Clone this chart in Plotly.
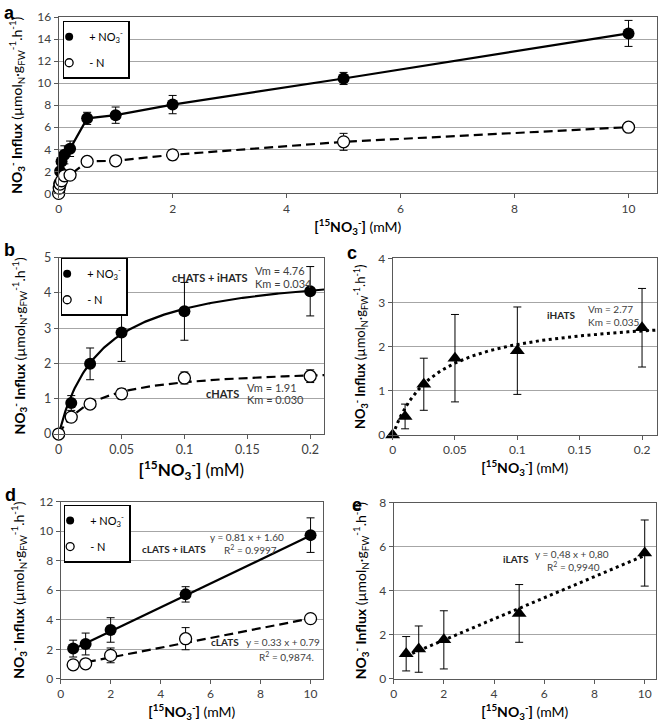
import numpy as np
import plotly.graph_objects as go

W, H = 658, 727

# ---------------- data ----------------
# panel a: full concentration range
conc_a = [0, 0.01, 0.025, 0.05, 0.1, 0.2, 0.5, 1, 2, 5, 10]
a_plus = [0, 0.9, 2.0, 2.9, 3.5, 4.05, 6.81, 7.1, 8.06, 10.43, 14.52]
a_plus_err = [0, 0.2, 0.45, 0.82, 0.82, 0.7, 0.55, 0.74, 0.83, 0.55, 1.18]
a_minus = [0, 0.48, 0.85, 1.15, 1.6, 1.66, 2.9, 2.96, 3.5, 4.68, 6.01]
a_minus_err = [0, 0.08, 0.08, 0.15, 0.17, 0.18, 0.1, 0.1, 0.45, 0.77, 0.15]

# panels b, c: HATS range
conc_hats = [0, 0.01, 0.025, 0.05, 0.1, 0.2]
b_plus = [0, 0.88, 1.99, 2.88, 3.48, 4.05]
b_plus_err = [0, 0.21, 0.45, 0.82, 0.82, 0.7]
b_minus = [0, 0.48, 0.85, 1.14, 1.59, 1.64]
b_minus_err = [0, 0.08, 0.08, 0.15, 0.17, 0.18]
c_i = [0, 0.42, 1.15, 1.74, 1.91, 2.43]
c_i_err = [0, 0.28, 0.59, 0.99, 0.99, 0.89]

# Michaelis-Menten parameters (Vm, Km)
mm_plus = (4.76, 0.034)
mm_minus = (1.91, 0.030)
mm_i = (2.77, 0.035)

# panels d, e: LATS range
conc_lats = [0.5, 1, 2, 5, 10]
d_plus = [2.05, 2.36, 3.31, 5.72, 9.73]
d_plus_err = [0.57, 0.74, 0.83, 0.52, 1.17]
d_minus = [0.95, 1.02, 1.59, 2.72, 4.08]
d_minus_err = [0.15, 0.15, 0.5, 0.75, 0.2]
e_i = [1.14, 1.35, 1.77, 2.97, 5.71]
e_i_err = [0.78, 1.05, 1.32, 1.31, 1.5]

# linear fits (slope, intercept)
lin_plus = (0.81, 1.60)
lin_minus = (0.33, 0.79)
lin_i = (0.48, 0.80)

# ---------------- style ----------------
FONT = "Lato"
TICKC = "#404040"
GRID = "#a6a6a6"
BORDER = "#595959"
DASH = "9px,5px"
DOT = "3px,3.5px"


def px(x):
    return x / W


def py(y):
    return 1 - y / H


fig = go.Figure()


def line(x, y, n, dash=None, width=2.2):
    fig.add_trace(go.Scatter(
        x=x, y=y, mode="lines", xaxis="x" + n, yaxis="y" + n,
        line=dict(color="black", width=width, dash=dash),
        showlegend=False, hoverinfo="skip"))


def marker_style(kind, size):
    if kind == "filled":
        return dict(symbol="circle", size=size, color="black")
    if kind == "open":
        return dict(symbol="circle", size=size, color="white",
                    line=dict(color="black", width=1.3))
    return dict(symbol="triangle-up", size=size, color="black")


def pts(x, y, err, n, kind, size=12):
    fig.add_trace(go.Scatter(
        x=x, y=y, mode="markers", xaxis="x" + n, yaxis="y" + n,
        marker=marker_style(kind, size), cliponaxis=False,
        error_y=dict(type="data", array=err, visible=True, color="black",
                     thickness=1, width=4),
        showlegend=False))


def legend_entry(name, kind, n, legend):
    fig.add_trace(go.Scatter(
        x=[None], y=[None], mode="markers", xaxis="x" + n, yaxis="y" + n,
        marker=marker_style(kind, 8), name=name, showlegend=True,
        legend=legend, legendgroup=legend + kind))


def mm(params, x):
    vm, km = params
    return vm * x / (km + x)


LEG_PLUS = "+ NO<sub>3</sub><sup>-</sup>"
LEG_MINUS = "- N"

# panel a
line(conc_a, a_plus, "")
line(conc_a, a_minus, "", dash=DASH)
pts(conc_a, a_plus, a_plus_err, "", "filled")
pts(conc_a, a_minus, a_minus_err, "", "open")
legend_entry(LEG_PLUS, "filled", "", "legend")
legend_entry(LEG_MINUS, "open", "", "legend")

# panel b
xf = np.linspace(0, 0.211, 200)
line(xf, mm(mm_plus, xf), "2")
line(xf, mm(mm_minus, xf), "2", dash=DASH)
pts(conc_hats, b_plus, b_plus_err, "2", "filled")
pts(conc_hats, b_minus, b_minus_err, "2", "open")
legend_entry(LEG_PLUS, "filled", "2", "legend2")
legend_entry(LEG_MINUS, "open", "2", "legend2")

# panel c
line(xf, mm(mm_i, xf), "3", dash=DOT, width=3)
pts(conc_hats, c_i, c_i_err, "3", "tri", size=13)

# panel d
xl = np.array([min(conc_lats), max(conc_lats)])
line(xl, lin_plus[0] * xl + lin_plus[1], "4")
line(xl, lin_minus[0] * xl + lin_minus[1], "4", dash=DASH)
pts(conc_lats, d_plus, d_plus_err, "4", "filled")
pts(conc_lats, d_minus, d_minus_err, "4", "open")
legend_entry(LEG_PLUS, "filled", "4", "legend3")
legend_entry(LEG_MINUS, "open", "4", "legend3")

# panel e
line(xl, lin_i[0] * xl + lin_i[1], "5", dash=DOT, width=3)
pts(conc_lats, e_i, e_i_err, "5", "tri", size=13)

# ---------------- axes ----------------
YTITLE = ("<b>NO<sub>3</sub><sup>-</sup> Influx</b> (µmol<sub>N</sub>·g<sub>FW</sub>"
          "<sup>-1</sup>.h<sup>-1</sup>)")
XTITLE = "<b>[<sup>15</sup>NO<sub>3</sub><sup>-</sup>]</b> (mM)"


def xax(dom_px, rng, dtick, anchor, tsize, tfs, standoff):
    return dict(domain=[px(dom_px[0]), px(dom_px[1])], range=rng, dtick=dtick,
                anchor=anchor, showline=True, mirror=True, linecolor=BORDER,
                linewidth=1, ticks="outside", ticklen=4, tickcolor=BORDER,
                showgrid=False, zeroline=False,
                tickfont=dict(family=FONT, size=tsize, color=TICKC),
                title=dict(text=XTITLE, font=dict(family=FONT, size=tfs, color="black"),
                           standoff=standoff))


def yax(dom_px, rng, dtick, anchor, tsize, tfs, standoff):
    return dict(domain=[py(dom_px[1]), py(dom_px[0])], range=rng, dtick=dtick,
                anchor=anchor, showline=True, mirror=True, linecolor=BORDER,
                linewidth=1, ticks="outside", ticklen=4, tickcolor=BORDER,
                showgrid=True, gridcolor=GRID, gridwidth=1, zeroline=False,
                tickfont=dict(family=FONT, size=tsize, color=TICKC),
                title=dict(text=YTITLE, font=dict(family=FONT, size=tfs, color="black"),
                           standoff=standoff))


fig.update_layout(
    xaxis=xax((55, 657), [0, 10.5], 2, "y", 12, 14, 2),
    yaxis=yax((9.3, 189.3), [0, 16], 2, "x", 12, 14, 11),
    xaxis2=xax((55, 322), [0, 0.211], 0.05, "y2", 12.5, 17, 6),
    yaxis2=yax((255, 435), [0, 5], 1, "x2", 12.5, 14, 15),
    xaxis3=xax((391, 657), [0, 0.212], 0.05, "y3", 12, 14, 4),
    yaxis3=yax((255.7, 436), [0, 4], 1, "x3", 12, 13, 9),
    xaxis4=xax((57, 321), [0, 10.5], 2, "y4", 12, 14, 4),
    yaxis4=yax((504, 685), [0, 12], 2, "x4", 12, 14, 11),
    xaxis5=xax((392, 656), [0, 10.45], 2, "y5", 12, 14, 4),
    yaxis5=yax((505, 685), [0, 8], 2, "x5", 12, 14, 9),
)

leg_common = dict(bgcolor="white", bordercolor="black", borderwidth=1.5,
                  font=dict(family=FONT, size=11, color="black"),
                  xanchor="left", yanchor="top", tracegroupgap=7,
                  traceorder="grouped", itemwidth=30, indentation=-15)
fig.update_layout(
    legend=dict(x=px(59), y=py(13), **leg_common),
    legend2=dict(x=px(57), y=py(255), **leg_common),
    legend3=dict(x=px(60), y=py(507), **leg_common),
)

# ---------------- annotations ----------------
ann = []


def txt(s, x, y, size=11, bold=False, color="#404040", xanchor="center", family=FONT):
    ann.append(dict(text=("<b>%s</b>" % s) if bold else s, x=px(x), y=py(y),
                    xref="paper", yref="paper", showarrow=False,
                    xanchor=xanchor, yanchor="middle",
                    font=dict(family=family, size=size, color=color)))


# panel letters
for letter, x, y in [("a", 6, 5), ("b", 6, 247), ("c", 350, 250),
                     ("d", 7, 497), ("e", 355, 507)]:
    txt(letter, x, y, size=18, bold=True, color="black", family="Liberation Sans")

# panel b
txt("cHATS + iHATS", 248, 275, size=11, bold=True, color="#262626", xanchor="right")
txt("Vm = 4.76", 251, 268, size=11, xanchor="left")
txt("Km = 0.034", 251, 281, size=11, xanchor="left")
txt("cHATS", 238, 394, size=11, bold=True, color="#262626", xanchor="right")
txt("Vm = 1.91", 242, 387, size=11, xanchor="left")
txt("Km = 0.030", 242, 400, size=11, xanchor="left")
# panel c
txt("iHATS", 577, 313, size=10, bold=True, color="#262626", xanchor="right")
txt("Vm = 2.77", 586, 307, size=10, xanchor="left")
txt("Km = 0.035", 586, 321, size=10, xanchor="left")
# panel d
txt("cLATS + iLATS", 205, 552, size=10, bold=True, color="#262626", xanchor="right")
txt("y = 0.81 x + 1.60", 244, 540, size=10)
txt("R<sup>2</sup> = 0.9997", 248, 553, size=10)
txt("cLATS", 238, 647, size=10, bold=True, color="#262626", xanchor="right")
txt("y = 0.33 x + 0.79", 281, 647, size=10)
txt("R<sup>2</sup> = 0,9874.", 284, 662, size=10)
# panel e
txt("iLATS", 530, 563, size=10, bold=True, color="#262626", xanchor="right")
txt("y = 0,48 x + 0,80", 571, 557, size=10)
txt("R<sup>2</sup> = 0,9940", 573, 570, size=10)

fig.update_layout(
    annotations=ann,
    width=W, height=H,
    margin=dict(l=0, r=0, t=0, b=0),
    paper_bgcolor="white", plot_bgcolor="white",
    font=dict(family=FONT, color="black"),
)

fig.write_html("out.html", config={"displayModeBar": False},
               post_script="document.body.style.margin='0';document.body.style.overflow='hidden';")
